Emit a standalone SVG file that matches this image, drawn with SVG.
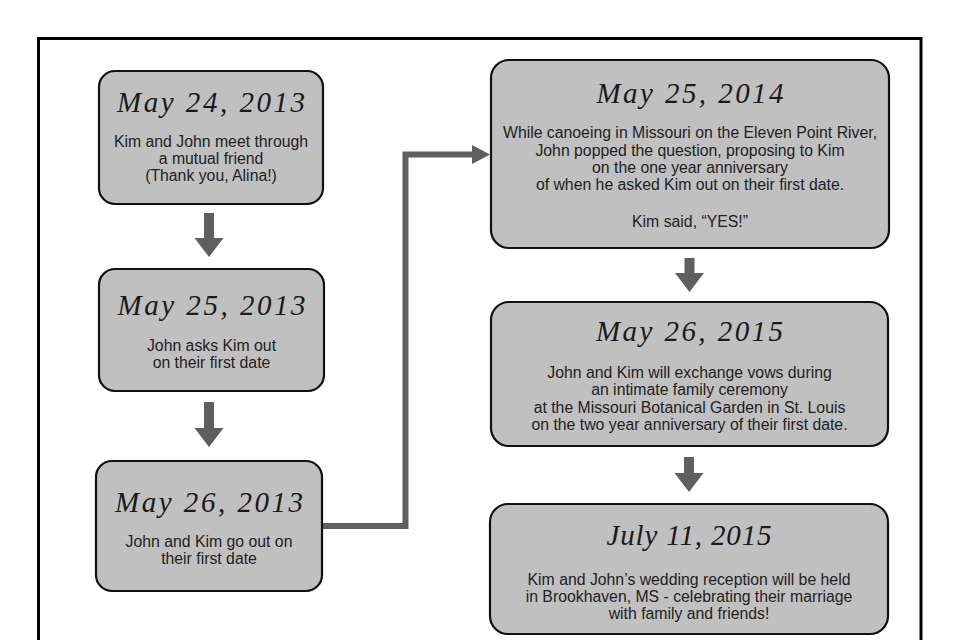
<svg xmlns="http://www.w3.org/2000/svg" width="960" height="640" viewBox="0 0 960 640">
<style>
.box{fill:#c0c0c0;stroke:#111;stroke-width:2.2}
.title{font-family:"Liberation Serif","DejaVu Serif",serif;font-style:italic;font-size:29px;fill:#1a1a1a;text-anchor:middle}
.body{font-family:"Liberation Sans","DejaVu Sans",sans-serif;font-size:15.8px;fill:#222;text-anchor:middle}
.arr{fill:#5f5f5f}
.conn{fill:none;stroke:#5f5f5f;stroke-width:6}
</style>
<rect x="0" y="0" width="960" height="640" fill="#fff"/>
<rect x="38.5" y="38.5" width="882.5" height="640" fill="none" stroke="#000" stroke-width="3"/>

<g id="connectors">
  <polygon class="arr" points="204,213 214,213 214,238 223.5,238 209,257 194.5,238 204,238"/>
  <polygon class="arr" points="204,402 214,402 214,428 223.5,428 209,447 194.5,428 204,428"/>
  <polygon class="arr" points="684.5,258 694.5,258 694.5,273 704,273 689.5,292 675,273 684.5,273"/>
  <polygon class="arr" points="684,457 694,457 694,473 703.5,473 689,492 674.5,473 684,473"/>
  <polyline class="conn" points="322,526 405.5,526 405.5,154.5 474,154.5"/>
  <polygon class="arr" points="472,145 490,154.5 472,164"/>
</g>

<g id="node-may24-2013">
  <rect class="box" x="99" y="71" width="224" height="133" rx="16"/>
  <text class="title" x="211" y="112" textLength="188" lengthAdjust="spacing">May 24, 2013</text>
  <text class="body" x="211" y="147">Kim and John meet through</text>
  <text class="body" x="211" y="164">a mutual friend</text>
  <text class="body" x="211" y="181">(Thank you, Alina!)</text>
</g>

<g id="node-may25-2013">
  <rect class="box" x="99" y="269" width="225" height="122" rx="16"/>
  <text class="title" x="211.5" y="315" textLength="188" lengthAdjust="spacing">May 25, 2013</text>
  <text class="body" x="211.5" y="351">John asks Kim out</text>
  <text class="body" x="211.5" y="368">on their first date</text>
</g>

<g id="node-may26-2013">
  <rect class="box" x="96" y="461" width="226" height="130" rx="16"/>
  <text class="title" x="209" y="512" textLength="188" lengthAdjust="spacing">May 26, 2013</text>
  <text class="body" x="209" y="547">John and Kim go out on</text>
  <text class="body" x="209" y="564">their first date</text>
</g>

<g id="node-may25-2014">
  <rect class="box" x="491" y="60" width="398" height="188" rx="18"/>
  <text class="title" x="690" y="103" textLength="187" lengthAdjust="spacing">May 25, 2014</text>
  <text class="body" x="690" y="138">While canoeing in Missouri on the Eleven Point River,</text>
  <text class="body" x="690" y="156">John popped the question, proposing to Kim</text>
  <text class="body" x="690" y="173">on the one year anniversary</text>
  <text class="body" x="690" y="190">of when he asked Kim out on their first date.</text>
  <text class="body" x="690" y="227">Kim said, “YES!”</text>
</g>

<g id="node-may26-2015">
  <rect class="box" x="491" y="302" width="397" height="144" rx="18"/>
  <text class="title" x="689.5" y="341" textLength="187" lengthAdjust="spacing">May 26, 2015</text>
  <text class="body" x="689.5" y="378">John and Kim will exchange vows during</text>
  <text class="body" x="689.5" y="395">an intimate family ceremony</text>
  <text class="body" x="689.5" y="413">at the Missouri Botanical Garden in St. Louis</text>
  <text class="body" x="689.5" y="430">on the two year anniversary of their first date.</text>
</g>

<g id="node-july11-2015">
  <rect class="box" x="490" y="504" width="398" height="130" rx="18"/>
  <text class="title" x="689" y="545" textLength="165" lengthAdjust="spacing">July 11, 2015</text>
  <text class="body" x="689" y="585">Kim and John’s wedding reception will be held</text>
  <text class="body" x="689" y="602">in Brookhaven, MS - celebrating their marriage</text>
  <text class="body" x="689" y="619">with family and friends!</text>
</g>
</svg>
